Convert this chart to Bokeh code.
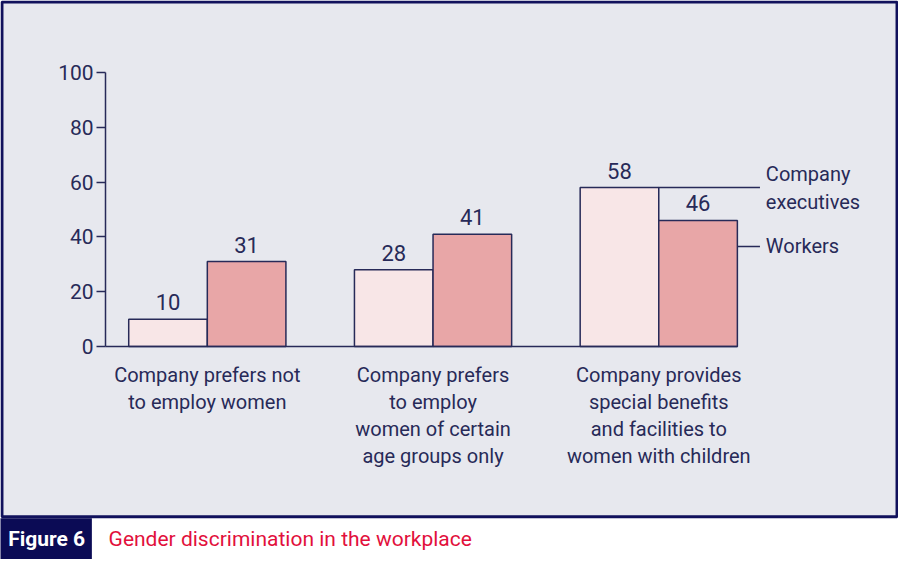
from bokeh.plotting import figure
from bokeh.models import Range1d, LinearAxis, FixedTicker
from bokeh.core.properties import value
from bokeh.embed import file_html
from bokeh.resources import INLINE

# ---------------- data ----------------
categories = [
    "Company prefers not\nto employ women",
    "Company prefers\nto employ\nwomen of certain\nage groups only",
    "Company provides\nspecial benefits\nand facilities to\nwomen with children",
]
executives = [10, 28, 58]
workers = [31, 41, 46]
series_names = ["Company\nexecutives", "Workers"]
y_ticks = [0, 20, 40, 60, 80, 100]
figure_label = "Figure 6"
title_text = "Gender discrimination in the workplace"

# ---------------- layout / style ----------------
W, H = 898, 559
REF_W, REF_H = 914, 575
GROUP_PX = 229.75   # pixels between group centres
X0_PX = 210.5       # pixel of first group centre
Y0_PX = 356.0       # pixel of value 0
PX_PER_UNIT = 2.82  # pixels per percentage point


def dx(px):
    return (px - X0_PX) / GROUP_PX


def dy(py):
    return (Y0_PX - py) / PX_PER_UNIT


NAVY = "#11115c"
INK = "#272a58"
PANEL = "#e7e8ee"
EXEC_FILL = "#f8e6e7"
WORK_FILL = "#e8a6a7"
RED = "#e2103c"
FONT = value("Roboto")

p = figure(width=W, height=H,
           x_range=Range1d(dx(0), dx(REF_W)),
           y_range=Range1d(dy(REF_H), dy(0)),
           output_backend="svg", toolbar_location=None,
           x_axis_location=None, y_axis_location=None,
           min_border=0, outline_line_color=None,
           background_fill_color="white", border_fill_color="white")
p.xgrid.grid_line_color = None
p.ygrid.grid_line_color = None

# panel with navy frame
p.quad(left=dx(1.5), right=dx(912.5), top=dy(1.5), bottom=dy(531),
       fill_color=PANEL, line_color=NAVY, line_width=3)

# caption strip
p.quad(left=dx(-3), right=dx(93), top=dy(532.5), bottom=dy(580),
       fill_color="#0b0b55", line_color=None)
p.text(x=[dx(47)], y=[dy(554)], text=[figure_label], text_align="center",
       text_baseline="middle", text_color="white", text_font=FONT,
       text_font_style="bold", text_font_size="21px")
p.text(x=[dx(110)], y=[dy(554)], text=[title_text], text_align="left",
       text_baseline="middle", text_color=RED, text_font=FONT,
       text_font_size="21px")

# bars
bw = 80 / GROUP_PX
groups = list(range(len(categories)))
ex_x = [g - bw / 2 for g in groups]
wk_x = [g + bw / 2 for g in groups]
p.vbar(x=ex_x, top=executives, bottom=0, width=bw, fill_color=EXEC_FILL,
       line_color=INK, line_width=1.5)
p.vbar(x=wk_x, top=workers, bottom=0, width=bw, fill_color=WORK_FILL,
       line_color=INK, line_width=1.5)

# value labels
p.text(x=ex_x + wk_x, y=executives + workers,
       text=[str(v) for v in executives + workers],
       text_align="center", text_baseline="alphabetic", y_offset=-17,
       text_color=INK, text_font=FONT, text_font_size="22px")

# category labels
p.text(x=groups, y=[0] * len(groups), text=categories, text_align="center",
       text_baseline="top", y_offset=16, text_line_height=1.13,
       text_color=INK, text_font=FONT, text_font_size="20px")

# legend leader lines + labels
last = groups[-1]
workers_leg_y = dy(253)
leg_end = dx(773)
p.segment(x0=[last, last + bw], y0=[executives[-1], workers_leg_y],
          x1=[leg_end, leg_end], y1=[executives[-1], workers_leg_y],
          line_color=INK, line_width=1.5)
p.text(x=[dx(779), dx(779)], y=[executives[-1], workers_leg_y],
       text=series_names, text_align="left", text_baseline="middle",
       text_line_height=1.17, text_color=INK, text_font=FONT,
       text_font_size="20px")

# axes
yaxis = LinearAxis(fixed_location=dx(107), bounds=(0, 100),
                   ticker=FixedTicker(ticks=y_ticks))
yaxis.axis_line_color = INK
yaxis.axis_line_width = 1.5
yaxis.major_tick_line_color = INK
yaxis.major_tick_line_width = 1.5
yaxis.major_tick_out = 9
yaxis.major_tick_in = 0
yaxis.minor_tick_line_color = None
yaxis.major_label_standoff = 3
yaxis.major_label_text_font = "Roboto"
yaxis.major_label_text_font_size = "21px"
yaxis.major_label_text_color = INK
p.add_layout(yaxis, "left")

xaxis = LinearAxis(fixed_location=0, bounds=(dx(107), last + bw),
                   ticker=FixedTicker(ticks=[]))
xaxis.axis_line_color = INK
xaxis.axis_line_width = 1.5
xaxis.major_tick_line_color = None
xaxis.minor_tick_line_color = None
xaxis.major_label_text_color = None
p.add_layout(xaxis, "below")

with open("out.html", "w") as f:
    f.write(file_html(p, INLINE))
